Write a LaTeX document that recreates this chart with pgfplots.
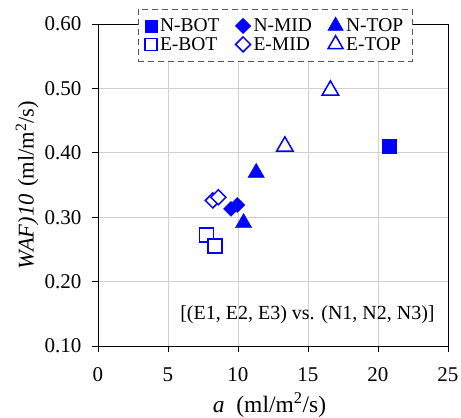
\documentclass[border=0pt]{standalone}
\usepackage{fontspec}
\setmainfont{Liberation Serif}
\usepackage{pgfplots}
\pgfplotsset{compat=1.18}
\definecolor{mblue}{RGB}{0,0,255}
\definecolor{gridgray}{RGB}{208,208,208}
\definecolor{legframe}{RGB}{85,85,85}
\begin{document}
\begin{tikzpicture}[font=\fontsize{21}{25}\selectfont]
\begin{axis}[
  scale only axis, width=350pt, height=322pt,
  xmin=0, xmax=25, ymin=0.1, ymax=0.6,
  xtick={0,5,10,15,20,25},
  ytick={0.1,0.2,0.3,0.4,0.5,0.6},
  tick align=outside, xtick pos=left, ytick pos=left,
  major tick length=6pt,
  tick style={black, line width=0.8pt},
  axis line style={black, line width=0.8pt},
  grid=major, grid style={gridgray, line width=0.8pt},
  /pgf/number format/assume math mode=true,
  yticklabel={\pgfmathprintnumber[fixed, fixed zerofill, precision=2]{\tick}},
  xticklabel style={yshift=-12pt},
  yticklabel style={xshift=-7pt},
  xlabel={\textit{a}\,\,\,(ml/m\textsuperscript{2}/s)},
  ylabel={\textit{WAF)10}\,\,(ml/m\textsuperscript{2}/s)},
  xlabel style={at={(axis description cs:0.49,-0.183)}, anchor=center,
    font=\fontsize{23.5}{27}\selectfont},
  ylabel style={at={(axis description cs:-0.203,0.5)}, anchor=center,
    font=\fontsize{22.5}{27}\selectfont},
  legend columns=3,
  legend style={at={(0.506,1.047)}, anchor=north, draw=legframe,
    dash pattern=on 6pt off 4pt, line width=0.8pt,
    fill=white, inner xsep=7pt, inner ysep=7.5pt,
    font=\fontsize{19.5}{23}\selectfont,
    /tikz/every odd column/.append style={column sep=1pt},
    /tikz/every even column/.append style={column sep=14pt},
    nodes={solid}},
  legend cell align=left,
]
\addplot[only marks, mark=square*, mark size=7pt, mblue, mark options={solid},
  legend image post style={mark size=6pt}]
  coordinates {(20.8,0.410)};
\addlegendentry{N-BOT}
\addplot[only marks, mark=square*, mark size=5.3pt, mblue, mark options={solid, rotate=45},
  legend image post style={mark size=5.3pt}]
  coordinates {(9.5,0.313) (9.95,0.319)};
\addlegendentry{N-MID}
\addplot[only marks, mark=triangle*, mark size=9.5pt, mblue, mark options={solid},
  legend image post style={mark size=8.7pt}]
  coordinates {(11.3,0.369) (10.4,0.291)};
\addlegendentry{N-TOP}
\addplot[only marks, mark=square*, mark size=7pt, mblue, mark options={solid, fill=white, line width=1.5pt},
  legend image post style={mark size=6pt}]
  coordinates {(7.75,0.272) (8.35,0.255)};
\addlegendentry{E-BOT}
\addplot[only marks, mark=square*, mark size=5.3pt, mblue, mark options={solid, rotate=45, fill=white, line width=1.5pt},
  legend image post style={mark size=5.3pt}]
  coordinates {(8.2,0.326) (8.6,0.331)};
\addlegendentry{E-MID}
\addplot[only marks, mark=triangle*, mark size=9.5pt, mblue, mark options={solid, fill=white, line width=1.5pt},
  legend image post style={mark size=8.7pt}]
  coordinates {(16.6,0.497) (13.35,0.410)};
\addlegendentry{E-TOP}
\node[anchor=east, font=\fontsize{20}{24}\selectfont] at (axis cs:24.3,0.148) {[(E1, E2, E3) vs. (N1, N2, N3)]};
\coordinate (bl) at (rel axis cs:0,0);
\coordinate (tr) at (rel axis cs:1,1);
\end{axis}
\pgfresetboundingbox
\path[use as bounding box] ([shift={(-98pt,-72pt)}]bl) rectangle ([shift={(13pt,24pt)}]tr);
\end{tikzpicture}
\end{document}
